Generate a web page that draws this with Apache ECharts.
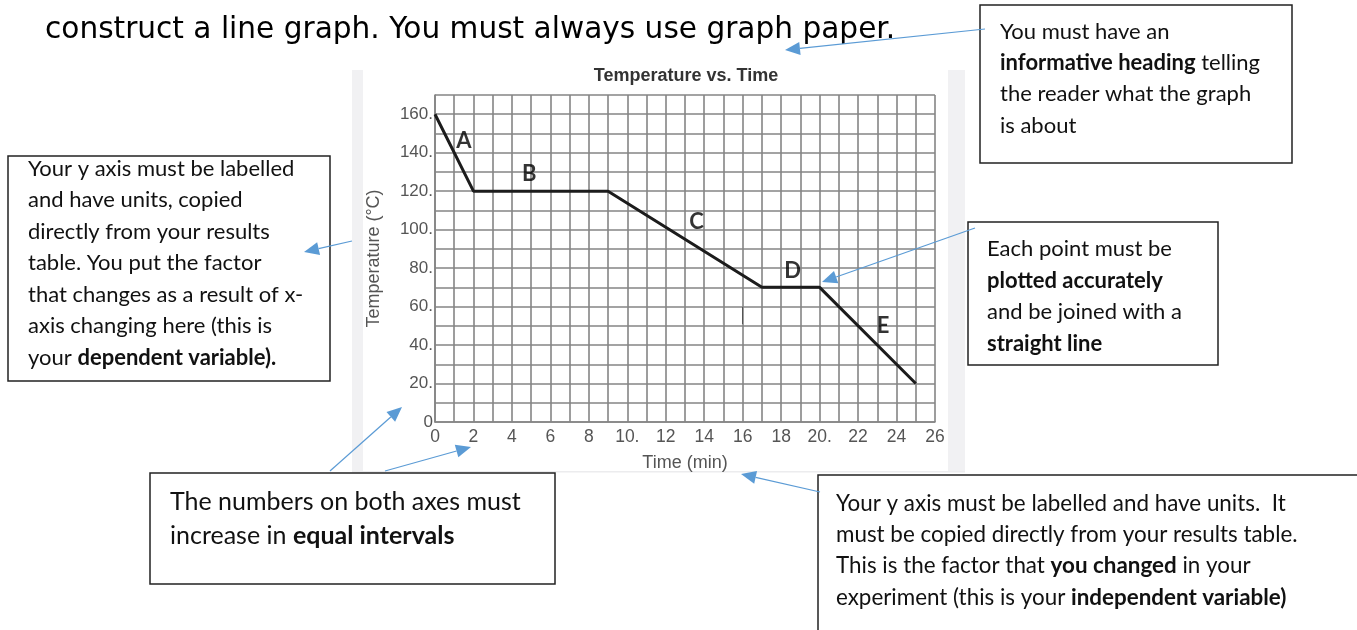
<!DOCTYPE html>
<html>
<head>
<meta charset="utf-8">
<script src="https://cdn.jsdelivr.net/npm/echarts@6/dist/echarts.min.js"></script>
<style>
html,body{margin:0;padding:0;background:#fff;}
#main{width:1357px;height:630px;}
</style>
</head>
<body>
<div id="main"></div>
<script>
// ---- data ----
const timeMin = [0, 2, 9, 17, 20, 25];
const tempC = [160, 120, 120, 70, 70, 20];
const xTickValues = [0, 2, 4, 6, 8, 10, 12, 14, 16, 18, 20, 22, 24, 26];
const xTickText = ['0', '2', '4', '6', '8', '10.', '12', '14', '16', '18', '20.', '22', '24', '26'];
const yTickValues = [0, 20, 40, 60, 80, 100, 120, 140, 160];
const yTickText = ['0', '20.', '40.', '60.', '80.', '100.', '120.', '140.', '160.'];
const segLabels = ['A', 'B', 'C', 'D', 'E'];
const segLabelX = [1.5, 4.9, 13.6, 18.6, 23.3];
const segLabelY = [146, 129, 104, 78.5, 50];
const chartTitle = 'Temperature vs. Time';
const xName = 'Time (min)';
const yName = 'Temperature (°C)';
const headline = 'construct a line graph. You must always use graph paper.';

// ---- chart ----
const chart = echarts.init(document.getElementById('main'));
const GRID = '#858585';
const LBL = '#555';
const AF = '"Liberation Sans", Arial, sans-serif';
const NF = 'Lato, "Open Sans", sans-serif';
const BLUE = '#5b9bd5';

function arrow(x1, y1, x2, y2) {
  const dx = x2 - x1, dy = y2 - y1, L = Math.sqrt(dx * dx + dy * dy);
  const ux = dx / L, uy = dy / L, hl = 15, hw = 6.5;
  const bx = x2 - ux * hl, by = y2 - uy * hl;
  return [
    { type: 'line', shape: { x1: x1, y1: y1, x2: bx, y2: by }, style: { stroke: BLUE, lineWidth: 1.2 }, z: 10 },
    { type: 'polygon', shape: { points: [[x2, y2], [bx - uy * hw, by + ux * hw], [bx + uy * hw, by - ux * hw]] }, style: { fill: BLUE }, z: 10 }
  ];
}
function box(x, y, w, h, tx, ty, text, fs, lh) {
  return [
    { type: 'rect', shape: { x: x, y: y, width: w, height: h }, style: { fill: '#fff', stroke: '#222', lineWidth: 1.5 }, z: 5 },
    { type: 'text', x: tx, y: ty, z: 6, style: {
      text: text, fill: '#111', font: fs + 'px ' + NF, lineHeight: lh,
      rich: { b: { fontWeight: 'bold', fontSize: fs, fontFamily: NF, lineHeight: lh, fill: '#111' },
              n: { fontSize: fs, fontFamily: NF, lineHeight: lh, fill: '#111' } }
    } }
  ];
}

const graphics = [].concat(
  [
    { type: 'rect', shape: { x: 352, y: 70, width: 11, height: 401 }, style: { fill: '#f1f1f3' }, z: -1 },
    { type: 'rect', shape: { x: 948, y: 70, width: 17, height: 401 }, style: { fill: '#f1f1f3' }, z: -1 },
    { type: 'rect', shape: { x: 352, y: 471, width: 613, height: 1.5 }, style: { fill: '#ececee' }, z: -1 },
    { type: 'line', shape: { x1: 742.5, y1: 307, x2: 742.5, y2: 324 }, style: { stroke: '#555', lineWidth: 1 }, z: 2 },
    { type: 'text', x: 686, y: 76, style: { text: chartTitle, font: 'bold 18px ' + AF, fill: '#333', textAlign: 'center', textVerticalAlign: 'middle' } },
    { type: 'text', x: 45, y: 30, style: { text: headline, font: '29.6px "DejaVu Sans", sans-serif', fill: '#000', textVerticalAlign: 'middle' } }
  ],
  box(980, 5, 312, 158, 1000, 16, '{n|You must have an}\n{b|informative heading}{n| telling}\n{n|the reader what the graph}\n{n|is about}', 22, 31.3),
  box(8, 156, 322, 225, 28, 153, '{n|Your y axis must be labelled}\n{n|and have units, copied}\n{n|directly from your results}\n{n|table. You put the factor}\n{n|that changes as a result of x-}\n{n|axis changing here (this is}\n{n|your }{b|dependent variable).}', 22, 31.5),
  box(150, 473, 405, 111, 170, 485, '{n|The numbers on both axes must}\n{n|increase in }{b|equal intervals}', 25, 34),
  box(818, 475, 560, 170, 836, 488, '{n|Your y axis must be labelled and have units.  It}\n{n|must be copied directly from your results table.}\n{n|This is the factor that }{b|you changed}{n| in your}\n{n|experiment (this is your }{b|independent variable)}', 22.4, 31.3),
  box(968, 222, 250, 143, 987, 233, '{n|Each point must be}\n{b|plotted accurately}\n{n|and be joined with a}\n{b|straight line}', 22, 31.7),
  arrow(985, 29, 785, 50),
  arrow(352, 241, 304, 252),
  arrow(330, 471, 402, 407),
  arrow(385, 471, 471, 447),
  arrow(820, 492, 741, 474),
  arrow(975, 228, 822, 282)
);

const option = {
  backgroundColor: '#fff',
  animation: false,
  grid: { left: 435, top: 95, width: 500, height: 327 },
  xAxis: {
    type: 'value', min: 0, max: 26, interval: 1,
    name: xName, nameLocation: 'middle', nameGap: 32,
    nameTextStyle: { fontFamily: AF, fontSize: 18, color: LBL },
    axisLine: { show: true, lineStyle: { color: GRID, width: 1.6 } },
    axisTick: { show: false },
    axisLabel: { margin: 6, fontFamily: AF, fontSize: 17.5, color: LBL,
      formatter: function (v) { const i = xTickValues.indexOf(v); return i >= 0 ? xTickText[i] : ''; } },
    splitLine: { show: true, lineStyle: { color: GRID, width: 1.6 } }
  },
  yAxis: {
    type: 'value', min: 0, max: 170, interval: 10,
    name: yName, nameLocation: 'middle', nameGap: 52, nameRotate: 90,
    nameTextStyle: { fontFamily: AF, fontSize: 18, color: LBL },
    axisLine: { show: true, lineStyle: { color: GRID, width: 1.6 } },
    axisTick: { show: false },
    axisLabel: { margin: 2, fontFamily: AF, fontSize: 17, color: LBL,
      formatter: function (v) { const i = yTickValues.indexOf(v); return i >= 0 ? yTickText[i] : ''; } },
    splitLine: { show: true, lineStyle: { color: GRID, width: 1.6 } }
  },
  series: [
    {
      type: 'line', data: timeMin.map((t, i) => [t, tempC[i]]),
      symbol: 'none', lineStyle: { color: '#1c1c1c', width: 3 }, z: 3
    },
    {
      type: 'scatter', data: segLabels.map((s, i) => [segLabelX[i], segLabelY[i], s]),
      symbolSize: 0, z: 4,
      label: { show: true, position: 'inside', formatter: p => p.data[2],
        fontFamily: NF, fontWeight: 'bold', fontSize: 22, color: '#000' }
    }
  ],
  graphic: graphics
};
chart.setOption(option);
</script>
</body>
</html>
